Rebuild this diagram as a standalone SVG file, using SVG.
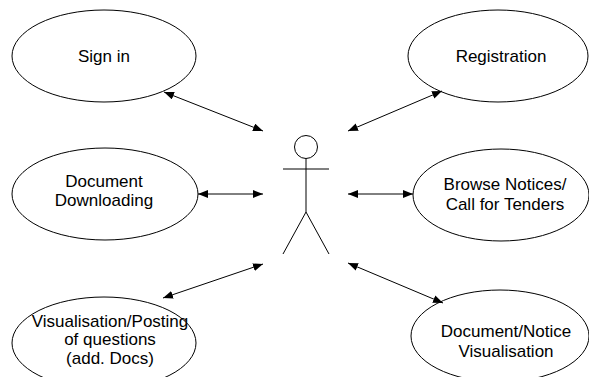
<svg xmlns="http://www.w3.org/2000/svg" width="589" height="377" viewBox="0 0 589 377">
<style>
.uc{fill:#fff;stroke:#000;stroke-width:1}
.t{font-family:"Liberation Sans",Arial,sans-serif;font-size:17px;fill:#000;text-anchor:middle}
.c{stroke:#000;stroke-width:1;fill:none;marker-start:url(#ah);marker-end:url(#ah)}
.a{stroke:#000;stroke-width:1;fill:none}
</style>
<defs>
<marker id="ah" viewBox="0 0 10 8" refX="10" refY="4" markerWidth="10" markerHeight="8" markerUnits="userSpaceOnUse" orient="auto-start-reverse">
<path d="M0,0 L10,4 L0,8 z" fill="#000"/>
</marker>
</defs>
<rect width="589" height="377" fill="#fff"/>
<g id="signin"><ellipse class="uc" cx="104" cy="56" rx="92" ry="46"/><text class="t" x="104" y="62">Sign in</text></g>
<g id="registration"><ellipse class="uc" cx="498" cy="56" rx="90" ry="46"/><text class="t" x="501" y="62">Registration</text></g>
<g id="docdownload"><ellipse class="uc" cx="105" cy="194" rx="93" ry="46"/><text class="t" x="104" y="187">Document</text><text class="t" x="104" y="206">Downloading</text></g>
<g id="browse"><ellipse class="uc" cx="501" cy="195" rx="88" ry="46"/><text class="t" x="505" y="190">Browse Notices/</text><text class="t" x="505" y="210">Call for Tenders</text></g>
<g id="visualisation"><ellipse class="uc" cx="104" cy="343" rx="92" ry="46"/><text class="t" x="110" y="327">Visualisation/Posting</text><text class="t" x="110" y="345">of questions</text><text class="t" x="110" y="364">(add. Docs)</text></g>
<g id="docnotice"><ellipse class="uc" cx="500" cy="336" rx="89" ry="46"/><text class="t" x="506" y="337">Document/Notice</text><text class="t" x="506" y="357">Visualisation</text></g>
<g id="actor">
<circle class="a" cx="306" cy="147" r="11.5"/>
<line class="a" x1="306" y1="158.5" x2="306" y2="212"/>
<line class="a" x1="283" y1="169" x2="329" y2="169"/>
<line class="a" x1="306" y1="212" x2="283" y2="254"/>
<line class="a" x1="306" y1="212" x2="329" y2="254"/>
</g>
<g id="connectors">
<line class="c" x1="164" y1="92" x2="263" y2="131"/>
<line class="c" x1="348" y1="131" x2="442" y2="91"/>
<line class="c" x1="198" y1="194" x2="263" y2="194"/>
<line class="c" x1="348" y1="194" x2="413" y2="194"/>
<line class="c" x1="163" y1="298" x2="263" y2="264"/>
<line class="c" x1="348" y1="263" x2="443" y2="303"/>
</g>
</svg>
